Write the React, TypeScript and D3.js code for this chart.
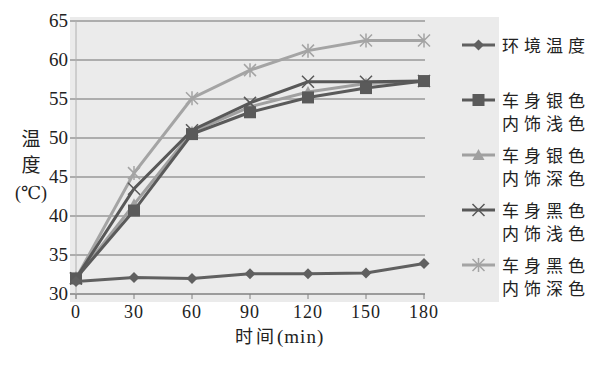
import React, { useRef, useEffect } from "react";
import * as d3 from "d3";

const times = [0, 30, 60, 90, 120, 150, 180];
const yTicks = [30, 35, 40, 45, 50, 55, 60, 65];

const seriesNames = [
  ["环境温度"],
  ["车身银色", "内饰浅色"],
  ["车身银色", "内饰深色"],
  ["车身黑色", "内饰浅色"],
  ["车身黑色", "内饰深色"],
];
const ambient = [31.6, 32.1, 32.0, 32.6, 32.6, 32.7, 33.9];
const silverLight = [32.0, 40.7, 50.5, 53.3, 55.2, 56.4, 57.3];
const silverDark = [32.0, 41.5, 50.8, 54.0, 55.9, 57.0, 57.3];
const blackLight = [32.0, 43.5, 51.0, 54.5, 57.2, 57.2, 57.3];
const blackDark = [32.0, 45.5, 55.1, 58.7, 61.2, 62.5, 62.5];

const seriesValues = [ambient, silverLight, silverDark, blackLight, blackDark];
const seriesColors = ["#606060", "#5a5a5a", "#a0a0a0", "#585858", "#a4a4a4"];
const seriesMarkers = ["diamond", "square", "triangle", "x", "star"];

function App() {
  const svgRef = useRef<SVGSVGElement>(null);

  useEffect(() => {
    const svg = d3.select(svgRef.current);
    svg.selectAll("*").remove();

    const width = 605;
    const height = 368;
    const serif = "'Liberation Serif', 'DejaVu Serif', serif";
    const cjk = "'Noto Sans CJK SC', sans-serif";

    svg.append("rect").attr("width", width).attr("height", height).attr("fill", "#fff");

    // grey chart area
    svg.append("rect")
      .attr("x", 70).attr("y", 17).attr("width", 429).attr("height", 285)
      .attr("fill", "#ebebeb");

    const x = d3.scaleLinear().domain([0, 180]).range([76, 424]);
    const y = d3.scaleLinear().domain([30, 65]).range([294, 21]);

    // gridlines
    svg.append("g")
      .selectAll("line")
      .data(yTicks)
      .enter()
      .append("line")
      .attr("x1", 70).attr("x2", 425)
      .attr("y1", (d) => y(d)).attr("y2", (d) => y(d))
      .attr("stroke", (d) => (d === 30 ? "#808080" : "#999"))
      .attr("stroke-width", (d) => (d === 30 ? 1.6 : 1.3));

    // y axis line
    svg.append("line")
      .attr("x1", x(0)).attr("x2", x(0)).attr("y1", y(65)).attr("y2", y(30) + 5)
      .attr("stroke", "#b0b0b0").attr("stroke-width", 1);

    // x tick marks
    svg.append("g")
      .selectAll("line")
      .data(times)
      .enter()
      .append("line")
      .attr("x1", (d) => x(d)).attr("x2", (d) => x(d))
      .attr("y1", y(30)).attr("y2", y(30) + 5)
      .attr("stroke", "#808080").attr("stroke-width", 1);

    // y tick labels
    svg.append("g")
      .selectAll("text")
      .data(yTicks)
      .enter()
      .append("text")
      .attr("x", 68)
      .attr("y", (d) => y(d) + 6)
      .attr("text-anchor", "end")
      .attr("font-family", serif)
      .attr("font-size", 19)
      .attr("fill", "#222")
      .text((d) => d);

    // x tick labels
    svg.append("g")
      .selectAll("text")
      .data(times)
      .enter()
      .append("text")
      .attr("x", (d) => x(d))
      .attr("y", 317.5)
      .attr("text-anchor", "middle")
      .attr("font-family", serif)
      .attr("font-size", 18)
      .attr("letter-spacing", 1)
      .attr("fill", "#222")
      .text((d) => d);

    // axis titles
    svg.append("text")
      .attr("x", 235).attr("y", 342.5)
      .attr("fill", "#222")
      .attr("font-size", 18)
      .call((t) => {
        t.append("tspan").attr("font-family", cjk).attr("letter-spacing", 3).text("时间");
        t.append("tspan").attr("font-family", serif).attr("font-size", 19).attr("letter-spacing", 1).text("(min)");
      });

    svg.append("text")
      .attr("x", 31)
      .attr("text-anchor", "middle")
      .attr("font-family", cjk).attr("font-size", 19).attr("fill", "#222")
      .call((t) => {
        t.append("tspan").attr("x", 31).attr("y", 146).text("温");
        t.append("tspan").attr("x", 31).attr("y", 172).text("度");
        t.append("tspan").attr("x", 31).attr("y", 199).attr("font-family", serif).attr("font-size", 18).text("(℃)");
      });

    const drawMarker = (g, type, cx, cy, color) => {
      if (type === "diamond") {
        g.append("path")
          .attr("d", `M${cx},${cy - 5.5}L${cx + 5.5},${cy}L${cx},${cy + 5.5}L${cx - 5.5},${cy}Z`)
          .attr("fill", color);
      } else if (type === "square") {
        g.append("rect")
          .attr("x", cx - 6).attr("y", cy - 6).attr("width", 12).attr("height", 12)
          .attr("fill", color);
      } else if (type === "triangle") {
        g.append("path")
          .attr("d", `M${cx},${cy - 6}L${cx + 6},${cy + 5}L${cx - 6},${cy + 5}Z`)
          .attr("fill", color);
      } else if (type === "x") {
        g.append("path")
          .attr("d", `M${cx - 6},${cy - 6}L${cx + 6},${cy + 6}M${cx - 6},${cy + 6}L${cx + 6},${cy - 6}`)
          .attr("stroke", color).attr("stroke-width", 1.5);
      } else {
        g.append("path")
          .attr("d", `M${cx - 6},${cy - 6}L${cx + 6},${cy + 6}M${cx - 6},${cy + 6}L${cx + 6},${cy - 6}M${cx},${cy - 7}L${cx},${cy + 7}`)
          .attr("stroke", color).attr("stroke-width", 1.5);
      }
    };

    const line = d3.line<number>()
      .x((d, i) => x(times[i]))
      .y((d) => y(d));

    // draw in reverse so that ambient and silver-light sit on top
    const order = [4, 2, 3, 1, 0];
    order.forEach((si) => {
      const g = svg.append("g");
      g.append("path")
        .datum(seriesValues[si])
        .attr("d", line)
        .attr("fill", "none")
        .attr("stroke", seriesColors[si])
        .attr("stroke-width", 3);
      seriesValues[si].forEach((v, i) => {
        drawMarker(g, seriesMarkers[si], x(times[i]), y(v), seriesColors[si]);
      });
    });

    // legend
    const legendY = [45, 100, 155, 210, 265];
    seriesNames.forEach((names, si) => {
      const ly = legendY[si];
      const g = svg.append("g");
      g.append("line")
        .attr("x1", 462).attr("x2", 495).attr("y1", ly).attr("y2", ly)
        .attr("stroke", seriesColors[si]).attr("stroke-width", 3);
      drawMarker(g, seriesMarkers[si], 478.5, ly, seriesColors[si]);
      const t = g.append("text")
        .attr("font-family", cjk)
        .attr("font-size", 17)
        .attr("letter-spacing", 5)
        .attr("fill", "#222");
      names.forEach((n, k) => {
        t.append("tspan")
          .attr("x", 502)
          .attr("y", ly + 7 + k * 23)
          .text(n);
      });
    });
  }, []);

  return (
    <svg ref={svgRef} width={605} height={368} style={{ display: "block", margin: "-8px" }}></svg>
  );
}

export default App;
